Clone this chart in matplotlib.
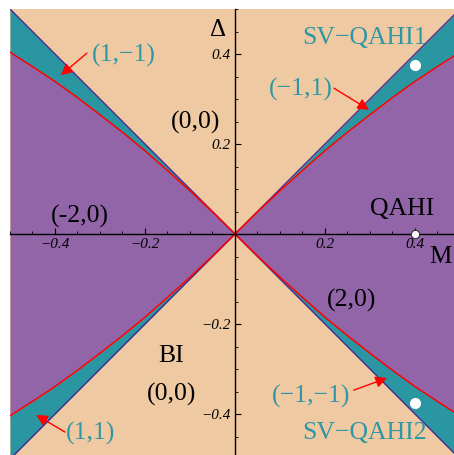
import numpy as np
import matplotlib
matplotlib.use("Agg")
import matplotlib.pyplot as plt
from matplotlib.ticker import FixedLocator, FixedFormatter, MultipleLocator

# ---- data ----
m_curve = [0.0, 0.05, 0.10, 0.15, 0.20, 0.25, 0.30, 0.35, 0.40, 0.45, 0.50]
delta_curve = [0.0, 0.049, 0.096, 0.141, 0.185, 0.226, 0.265, 0.303, 0.339, 0.372, 0.404]
diag_m = [-0.5, 0.0, 0.5]

dots_m = [0.4, 0.4]
dots_delta = [0.375, -0.375]
axis_dot = (0.4, 0.0)

tick_vals = [-0.4, -0.2, 0.2, 0.4]
xtick_labels = ["\u22120.4", "\u22120.2", "0.2", "0.4"]
ytick_labels = ["\u22120.4", "\u22120.2", "0.2", "0.4"]

region_labels = [
    ("(1,\u22121)", -0.247, 0.396, "teal"),
    ("(0,0)", -0.087, 0.247, "k"),
    ("(-2,0)", -0.344, 0.038, "k"),
    ("SV\u2212QAHI1", 0.287, 0.436, "teal"),
    ("(\u22121,1)", 0.147, 0.322, "teal"),
    ("QAHI", 0.371, 0.056, "k"),
    ("(2,0)", 0.260, -0.147, "k"),
    ("(\u22121,\u22121)", 0.169, -0.362, "teal"),
    ("SV\u2212QAHI2", 0.289, -0.442, "teal"),
    ("BI", -0.142, -0.271, "k"),
    ("(0,0)", -0.142, -0.356, "k"),
    ("(1,1)", -0.322, -0.444, "teal"),
]
arrows = [  # (tail, head)
    ((-0.329, 0.402), (-0.387, 0.353)),
    ((0.220, 0.324), (0.298, 0.276)),
    ((0.264, -0.347), (0.338, -0.320)),
    ((-0.378, -0.440), (-0.442, -0.402)),
]

# ---- colours ----
PEACH = "#EFC9A1"
TEAL_FILL = "#2A96A2"
PURPLE = "#9165A8"
TEAL_TEXT = "#2E97A5"
RED = "#FF0000"
DIAG = "#4A2A90"

plt.rcParams["font.family"] = ["Liberation Serif", "DejaVu Serif"]

fig = plt.figure(figsize=(4.54, 4.55), dpi=100)
ax = fig.add_axes([10 / 454, 0, 444 / 454, 446 / 455])
ax.set_xlim(-0.5, 0.4867)
ax.set_ylim(-0.4911, 0.5)
ax.set_facecolor(PEACH)

mc = np.array(m_curve)
dc = np.array(delta_curve)
M_full = np.concatenate([-mc[::-1], mc[1:]])
D_full = np.concatenate([dc[::-1], dc[1:]])
A_full = np.abs(M_full)

ax.fill_between(M_full, D_full, A_full, color=TEAL_FILL, lw=0, zorder=1)
ax.fill_between(M_full, -A_full, -D_full, color=TEAL_FILL, lw=0, zorder=1)
ax.fill_between(M_full, -D_full, D_full, color=PURPLE, lw=0, zorder=1)

dm = np.array(diag_m)
ax.plot(dm, np.abs(dm), color=DIAG, lw=1.0, zorder=2)
ax.plot(dm, -np.abs(dm), color=DIAG, lw=1.0, zorder=2)
ax.plot(M_full, D_full, color=RED, lw=1.1, zorder=3)
ax.plot(M_full, -D_full, color=RED, lw=1.1, zorder=3)

for s in ["top", "right"]:
    ax.spines[s].set_visible(False)
ax.spines["left"].set_position(("data", 0))
ax.spines["bottom"].set_position(("data", 0))
ax.spines["left"].set_linewidth(1.0)
ax.spines["bottom"].set_linewidth(1.0)
ax.spines["left"].set_zorder(4)
ax.spines["bottom"].set_zorder(4)

ax.xaxis.set_major_locator(FixedLocator(tick_vals))
ax.xaxis.set_major_formatter(FixedFormatter(xtick_labels))
ax.yaxis.set_major_locator(FixedLocator(tick_vals))
ax.yaxis.set_major_formatter(FixedFormatter(ytick_labels))
ax.xaxis.set_minor_locator(MultipleLocator(0.05))
ax.yaxis.set_minor_locator(MultipleLocator(0.05))
ax.tick_params(which="major", direction="in", length=4, width=0.8, labelsize=11, pad=3)
ax.tick_params(which="minor", direction="in", length=2.5, width=0.6)
for lab in ax.get_xticklabels() + ax.get_yticklabels():
    lab.set_fontstyle("italic")

ax.plot(dots_m, dots_delta, "o", color="white", ms=7, mec="white", zorder=6)
ax.plot([axis_dot[0]], [axis_dot[1]], "o", color="white", ms=6, mec="#333333", mew=0.8, zorder=6)

for txt, x, y, c in region_labels:
    col = TEAL_TEXT if c == "teal" else "black"
    ax.text(x, y, txt, color=col, fontsize=18.5, ha="center", va="center", zorder=7)

ax.text(-0.038, 0.453, "\u0394", fontsize=18, ha="center", va="center", zorder=7)
ax.text(0.456, -0.051, "M", fontsize=18, ha="center", va="center", zorder=7)

for tail, head in arrows:
    ax.annotate("", xy=head, xytext=tail,
                arrowprops=dict(arrowstyle="-|>", color=RED, lw=1.0,
                                mutation_scale=17, shrinkA=0, shrinkB=0),
                zorder=7)

fig.savefig("out.png", dpi=100)
